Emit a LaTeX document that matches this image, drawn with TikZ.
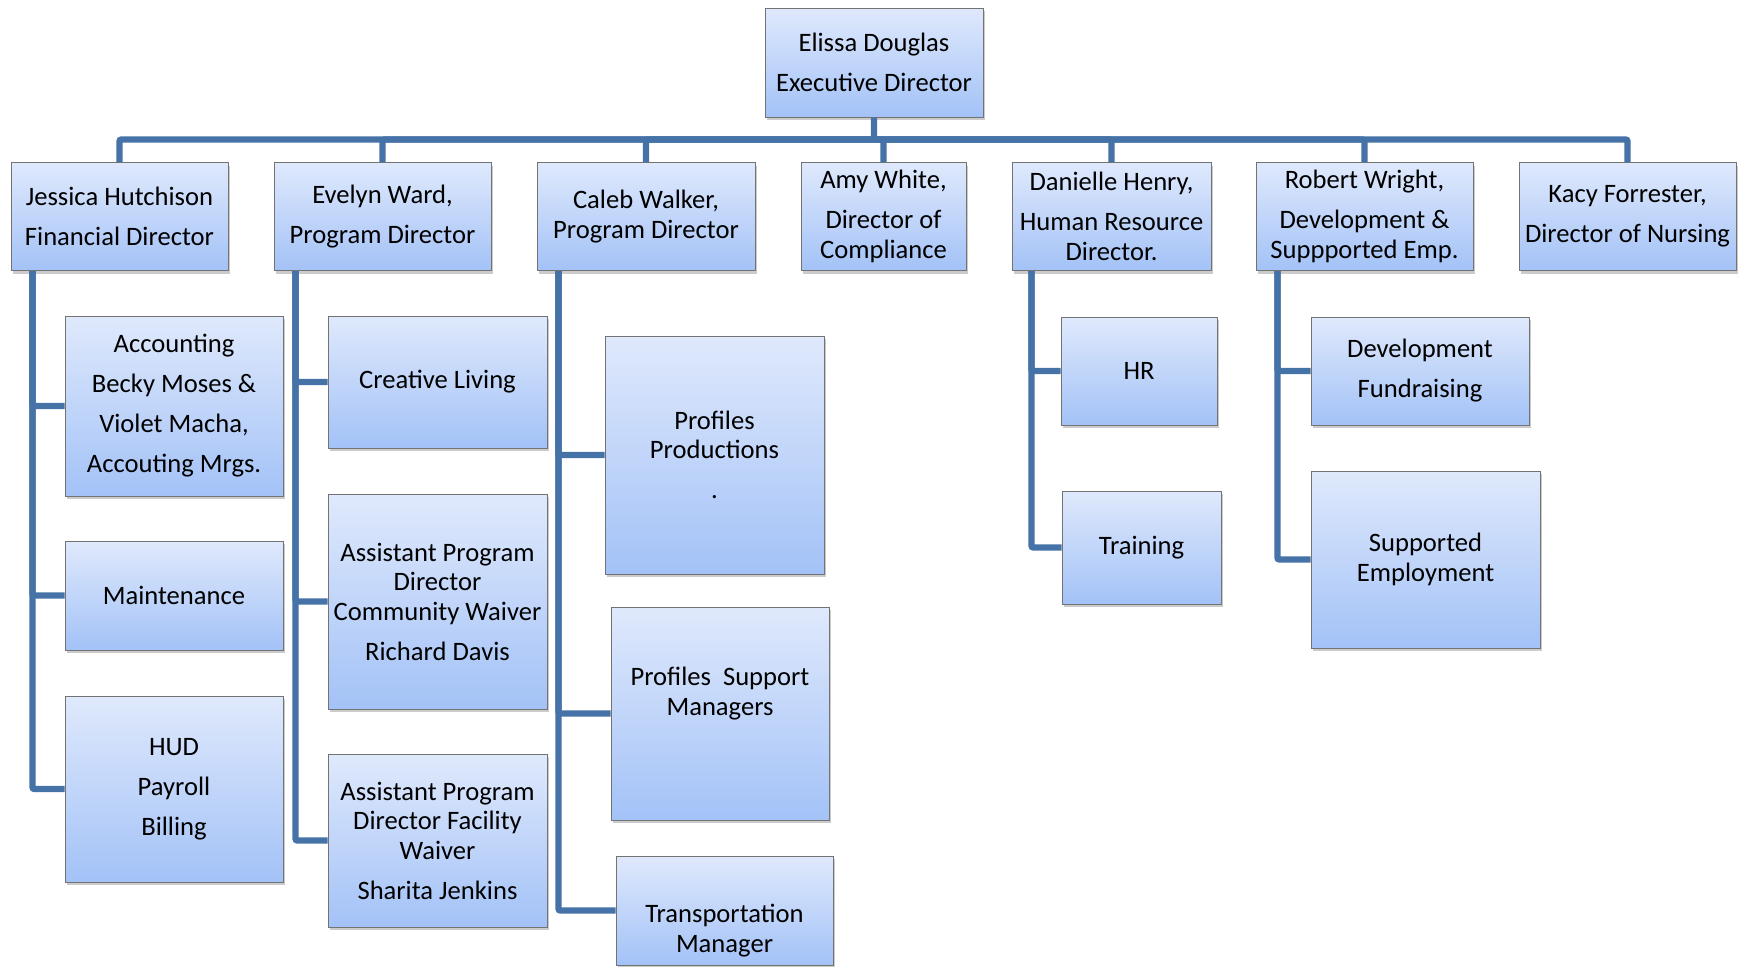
\documentclass[tikz,border=0pt]{standalone}
\usepackage{fontspec}
\setmainfont{Carlito}
\usepackage{xcolor}
\usepackage{tikz}
\usetikzlibrary{shadows}
\definecolor{boxtop}{RGB}{223,233,252}
\definecolor{boxbot}{RGB}{163,194,247}
\definecolor{linkblue}{RGB}{69,114,167}
\tikzset{
  unit/.style={rectangle, draw=black!55, line width=0.5pt, top color=boxtop, bottom color=boxbot,
    align=center, inner xsep=2pt, inner ysep=2pt, font=\fontsize{13.3}{14.75}\selectfont,
    drop shadow={shadow xshift=1.2pt, shadow yshift=-1.5pt, fill=black!45, opacity=0.45}},
  lbltxt/.style={align=center, inner sep=0pt, font=\fontsize{13.3}{14.75}\selectfont},
  link/.style={draw=linkblue, line width=3.2pt, rounded corners=1pt},
}

\begin{document}
\begin{tikzpicture}[x=0.5pt, y=-0.5pt]
    \useasboundingbox (0,0) rectangle (1746,966);

    \node[unit, minimum width=109pt, minimum height=54.5pt] (exec) at (874,62.5) {Elissa Douglas\\[5.25pt]Executive Director};

    \node[unit, minimum width=108.5pt, minimum height=54pt] (jess) at (119.5,216.5) {Jessica Hutchison\\[5.25pt]Financial Director};
    \node[unit, minimum width=108.5pt, minimum height=54pt] (evel) at (382.5,216.5) {Evelyn Ward,\\[5.25pt]Program Director};
    \node[unit, minimum width=109pt, minimum height=54pt] (caleb) at (646,216.5) {Caleb Walker,\\Program Director};
    \node[unit, minimum width=82.5pt, minimum height=54pt] (amy) at (883.5,216.5) {Amy White,\\[5.25pt]Director of\\Compliance};
    \node[unit, minimum width=99.5pt, minimum height=54pt] (dan) at (1111.5,216.5) {Danielle Henry,\\[5.25pt]Human Resource\\Director.};
    \node[unit, minimum width=108.5pt, minimum height=54pt] (rob) at (1364.5,216.5) {Robert Wright,\\[5.25pt]Development \&\\Suppported Emp.};
    \node[unit, minimum width=108.5pt, minimum height=54pt] (kacy) at (1627.5,216.5) {Kacy Forrester,\\[5.25pt]Director of Nursing};

    \node[unit, minimum width=109pt, minimum height=90pt] (acc) at (174,406) {Accounting\\[5.25pt]Becky Moses \&\\[5.25pt]Violet Macha,\\[5.25pt]Accouting Mrgs.};
    \node[unit, minimum width=109pt, minimum height=54.5pt] (maint) at (174,595.5) {Maintenance};
    \node[unit, minimum width=109pt, minimum height=93pt] (hud) at (174,789) {HUD\\[5.25pt]Payroll\\[5.25pt]Billing};

    \node[unit, minimum width=109.5pt, minimum height=66pt] (creat) at (437.5,382) {Creative Living};
    \node[unit, minimum width=109.5pt, minimum height=107.5pt] (apdcw) at (437.5,601.5) {Assistant Program\\Director\\Community Waiver\\[5.25pt]Richard Davis};
    \node[unit, minimum width=109.5pt, minimum height=86.5pt] (apdfw) at (437.5,840.5) {Assistant Program\\Director Facility\\Waiver\\[5.25pt]Sharita Jenkins};

    \node[unit, minimum width=109.5pt, minimum height=119pt] (prod) at (714.5,455) {Profiles\\Productions\\[5.25pt].};
    \node[unit, minimum width=109pt, minimum height=106.5pt,
      label={[lbltxt, yshift=10pt]center:Profiles\ \ Support\\Managers}] (supp) at (720,713.5) {};
    \node[unit, minimum width=108.5pt, minimum height=54.5pt,
      label={[lbltxt, yshift=-10pt]center:Transportation\\Manager}] (trans) at (724.5,910.5) {};

    \node[unit, minimum width=78pt, minimum height=54pt] (hr) at (1139,371) {HR};
    \node[unit, minimum width=79.5pt, minimum height=56.5pt] (train) at (1141.5,547.5) {Training};

    \node[unit, minimum width=109pt, minimum height=54pt] (dev) at (1420,371) {Development\\[5.25pt]Fundraising};
    \node[unit, minimum width=114.5pt, minimum height=88.5pt] (semp) at (1425.5,559.5) {Supported\\Employment};

    \coordinate (bar) at ([yshift=-11pt]exec.south);
    \draw[link] (exec.south) -- (bar) -| (jess.north);
    \draw[link] (bar) -| (evel.north);
    \draw[link] (bar) -| (caleb.north);
    \draw[link] (bar) -| (amy.north);
    \draw[link] (bar) -| (dan.north);
    \draw[link] (bar) -| (rob.north);
    \draw[link] (bar) -| (kacy.north);

    \draw[link] ([xshift=11pt]jess.south west) |- (acc.west);
    \draw[link] ([xshift=11pt]jess.south west) |- (maint.west);
    \draw[link] ([xshift=11pt]jess.south west) |- (hud.west);

    \draw[link] ([xshift=11pt]evel.south west) |- (creat.west);
    \draw[link] ([xshift=11pt]evel.south west) |- (apdcw.west);
    \draw[link] ([xshift=11pt]evel.south west) |- (apdfw.west);

    \draw[link] ([xshift=11pt]caleb.south west) |- (prod.west);
    \draw[link] ([xshift=11pt]caleb.south west) |- (supp.west);
    \draw[link] ([xshift=11pt]caleb.south west) |- (trans.west);

    \draw[link] ([xshift=10pt]dan.south west) |- (hr.west);
    \draw[link] ([xshift=10pt]dan.south west) |- (train.west);

    \draw[link] ([xshift=11pt]rob.south west) |- (dev.west);
    \draw[link] ([xshift=11pt]rob.south west) |- (semp.west);
  \end{tikzpicture}
\end{document}
